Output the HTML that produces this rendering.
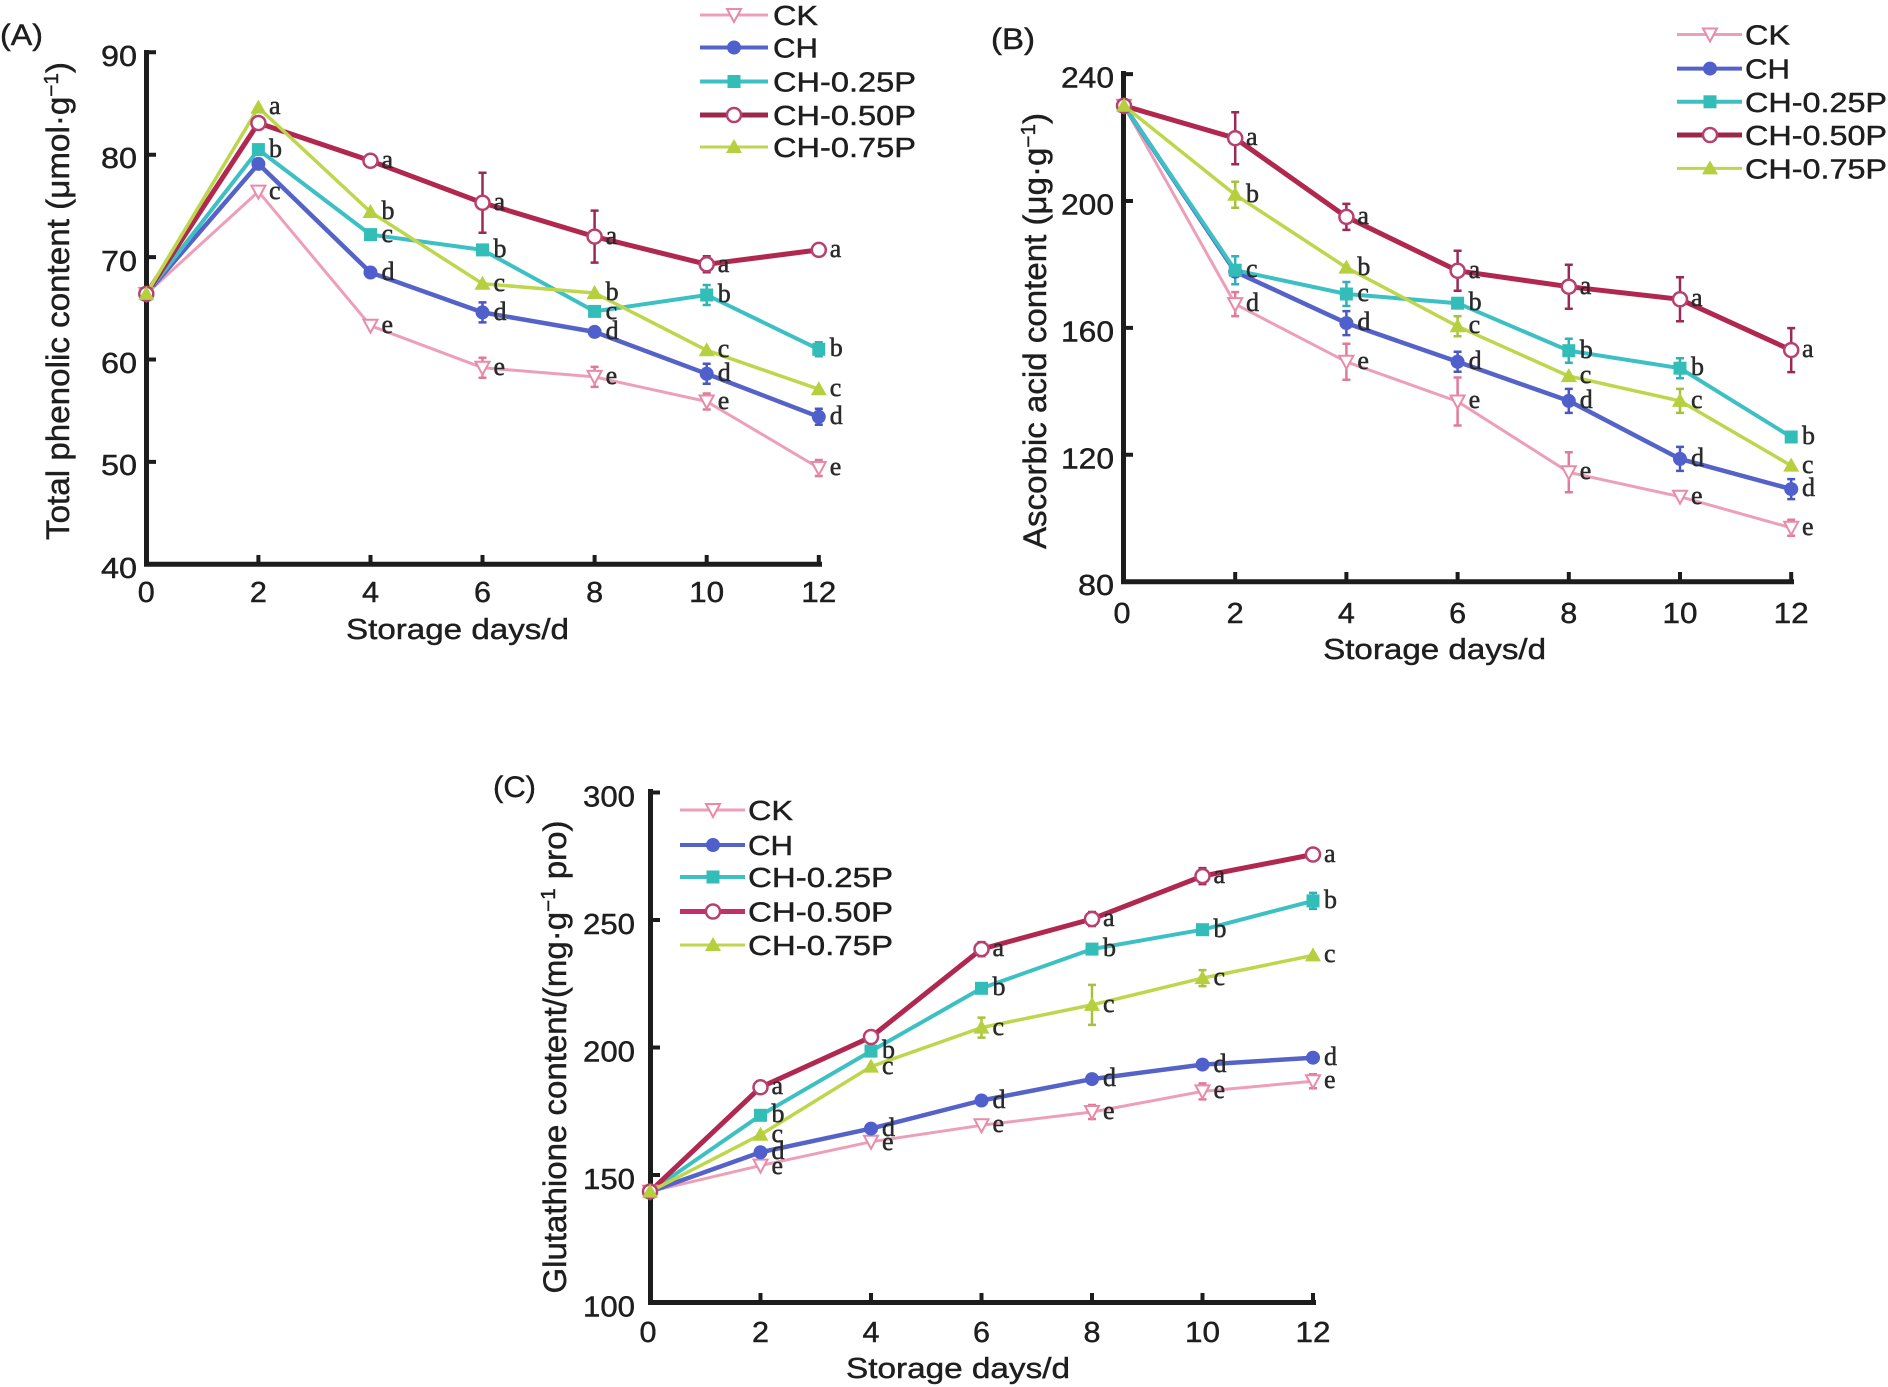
<!DOCTYPE html>
<html>
<head>
<meta charset="utf-8">
<style>
html,body{margin:0;padding:0;background:#fff;}
svg{display:block;}
.t{font-family:"Liberation Sans",Arial,sans-serif;fill:#1e1e1e;stroke:#1e1e1e;stroke-width:0.45px;}
.l{font-family:"Liberation Serif","Times New Roman",serif;fill:#2a2a2a;stroke:#2a2a2a;stroke-width:0.5px;font-size:26px;}
</style>
</head>
<body>
<svg width="1888" height="1387" viewBox="0 0 1888 1387" xmlns="http://www.w3.org/2000/svg">
<defs>
<g id="mCK"><path d="M-7,-6 L7,-6 L0,7 Z" fill="#fff" stroke="#e98aa8" stroke-width="2"/></g>
<g id="mCH"><circle r="7" fill="#4f5fcc"/></g>
<g id="mQ"><rect x="-6.5" y="-6.5" width="13" height="13" fill="#33bdb8"/></g>
<g id="mH"><circle r="7" fill="#fff" stroke="#b8406e" stroke-width="2.5"/></g>
<g id="mT"><path d="M0,-8 L8,6 L-8,6 Z" fill="#b5cf3e"/></g>
</defs>
<rect width="1888" height="1387" fill="#fff"/>

<!-- ================= PANEL A ================= -->
<text class="t" x="0" y="45" font-size="30" textLength="43" lengthAdjust="spacingAndGlyphs">(A)</text>
<g stroke="#1c1c1c" fill="none">
<path d="M146.5,50 V566.5 M144,564.3 H822" stroke-width="5"/>
<path d="M146.5,52.3 H156 M146.5,154.7 H156 M146.5,257.1 H156 M146.5,359.5 H156 M146.5,461.9 H156" stroke-width="4"/>
<path d="M258.4,564 V555 M370.5,564 V555 M482.5,564 V555 M594.6,564 V555 M706.7,564 V555 M818.8,564 V555" stroke-width="4"/>
</g>
<g class="t" font-size="29" text-anchor="end">
<text x="137" y="66" textLength="36" lengthAdjust="spacingAndGlyphs">90</text>
<text x="137" y="168" textLength="36" lengthAdjust="spacingAndGlyphs">80</text>
<text x="137" y="271" textLength="36" lengthAdjust="spacingAndGlyphs">70</text>
<text x="137" y="373" textLength="36" lengthAdjust="spacingAndGlyphs">60</text>
<text x="137" y="475" textLength="36" lengthAdjust="spacingAndGlyphs">50</text>
<text x="137" y="578" textLength="36" lengthAdjust="spacingAndGlyphs">40</text>
</g>
<g class="t" font-size="29" text-anchor="middle">
<text x="146.3" y="602" textLength="17" lengthAdjust="spacingAndGlyphs">0</text>
<text x="258.4" y="602" textLength="17" lengthAdjust="spacingAndGlyphs">2</text>
<text x="370.5" y="602" textLength="17" lengthAdjust="spacingAndGlyphs">4</text>
<text x="482.5" y="602" textLength="17" lengthAdjust="spacingAndGlyphs">6</text>
<text x="594.6" y="602" textLength="17" lengthAdjust="spacingAndGlyphs">8</text>
<text x="706.7" y="602" textLength="35" lengthAdjust="spacingAndGlyphs">10</text>
<text x="818.8" y="602" textLength="35" lengthAdjust="spacingAndGlyphs">12</text>
<text x="457.5" y="639" textLength="223" lengthAdjust="spacingAndGlyphs">Storage days/d</text>
</g>
<text class="t" font-size="32" text-anchor="middle" transform="translate(69,301) rotate(-90)" textLength="478" lengthAdjust="spacingAndGlyphs">Total phenolic content (μmol·g<tspan dy="-11" font-size="20">−1</tspan><tspan dy="11">)</tspan></text>

<g fill="none" stroke-linejoin="round">
<polyline stroke="#ee9fb8" stroke-width="3" points="146.3,293.9 258.4,191.6 370.5,325.7 482.5,367.7 594.6,376.9 706.7,401.5 818.8,468.0"/>
<polyline stroke="#5563c9" stroke-width="4.5" points="146.3,293.9 258.4,163.9 370.5,272.5 482.5,312.4 594.6,331.9 706.7,373.8 818.8,416.8"/>
<polyline stroke="#3cc0c4" stroke-width="4" points="146.3,293.9 258.4,149.6 370.5,234.6 482.5,249.9 594.6,311.4 706.7,295.0 818.8,349.3"/>
<polyline stroke="#b0284f" stroke-width="5" points="146.3,293.9 258.4,123.0 370.5,160.8 482.5,202.8 594.6,236.6 706.7,264.3 818.8,249.9"/>
<polyline stroke="#bed64c" stroke-width="3.5" points="146.3,293.9 258.4,107.6 370.5,212.0 482.5,283.7 594.6,293.0 706.7,350.3 818.8,389.2"/>
</g>
<g fill="none" stroke-width="2.5">
<path stroke="#9a2a55" d="M482.5,172.8V232.8M478.5,172.8H486.5M478.5,232.8H486.5 M594.6,210.6V262.6M590.6,210.6H598.6M590.6,262.6H598.6 M706.7,256.3V272.3M702.7,256.3H710.7M702.7,272.3H710.7"/>
<path stroke="#30b0b8" d="M706.7,285V305M702.7,285H710.7M702.7,305H710.7 M818.8,342.3V356.3M814.8,342.3H822.8M814.8,356.3H822.8"/>
<path stroke="#4a57c0" d="M482.5,302.4V322.4M478.5,302.4H486.5M478.5,322.4H486.5 M706.7,363.8V383.8M702.7,363.8H710.7M702.7,383.8H710.7 M818.8,408.8V424.8M814.8,408.8H822.8M814.8,424.8H822.8"/>
<path stroke="#e07a98" d="M482.5,357.7V377.7M478.5,357.7H486.5M478.5,377.7H486.5 M594.6,366.9V386.9M590.6,366.9H598.6M590.6,386.9H598.6 M706.7,393.5V409.5M702.7,393.5H710.7M702.7,409.5H710.7 M818.8,460V476M814.8,460H822.8M814.8,476H822.8"/>
</g>
<use href="#mCK" x="146.3" y="293.9"/><use href="#mCK" x="258.4" y="191.6"/><use href="#mCK" x="370.5" y="325.7"/><use href="#mCK" x="482.5" y="367.7"/><use href="#mCK" x="594.6" y="376.9"/><use href="#mCK" x="706.7" y="401.5"/><use href="#mCK" x="818.8" y="468.0"/>
<use href="#mCH" x="146.3" y="293.9"/><use href="#mCH" x="258.4" y="163.9"/><use href="#mCH" x="370.5" y="272.5"/><use href="#mCH" x="482.5" y="312.4"/><use href="#mCH" x="594.6" y="331.9"/><use href="#mCH" x="706.7" y="373.8"/><use href="#mCH" x="818.8" y="416.8"/>
<use href="#mQ" x="146.3" y="293.9"/><use href="#mQ" x="258.4" y="149.6"/><use href="#mQ" x="370.5" y="234.6"/><use href="#mQ" x="482.5" y="249.9"/><use href="#mQ" x="594.6" y="311.4"/><use href="#mQ" x="706.7" y="295.0"/><use href="#mQ" x="818.8" y="349.3"/>
<use href="#mH" x="146.3" y="293.9"/><use href="#mH" x="258.4" y="123.0"/><use href="#mH" x="370.5" y="160.8"/><use href="#mH" x="482.5" y="202.8"/><use href="#mH" x="594.6" y="236.6"/><use href="#mH" x="706.7" y="264.3"/><use href="#mH" x="818.8" y="249.9"/>
<use href="#mT" x="146.3" y="293.9"/><use href="#mT" x="258.4" y="107.6"/><use href="#mT" x="370.5" y="212.0"/><use href="#mT" x="482.5" y="283.7"/><use href="#mT" x="594.6" y="293.0"/><use href="#mT" x="706.7" y="350.3"/><use href="#mT" x="818.8" y="389.2"/>
<g class="l">
<text x="269" y="114">a</text><text x="269" y="157">b</text><text x="269" y="199">c</text>
<text x="381.5" y="168">a</text><text x="381.5" y="219">b</text><text x="381.5" y="242">c</text><text x="381.5" y="280">d</text><text x="381.5" y="333">e</text>
<text x="493.5" y="210">a</text><text x="493.5" y="257">b</text><text x="493.5" y="291">c</text><text x="493.5" y="320">d</text><text x="493.5" y="375">e</text>
<text x="605.6" y="244">a</text><text x="605.6" y="300">b</text><text x="605.6" y="319">c</text><text x="605.6" y="339">d</text><text x="605.6" y="384">e</text>
<text x="717.7" y="272">a</text><text x="717.7" y="302">b</text><text x="717.7" y="357">c</text><text x="717.7" y="381">d</text><text x="717.7" y="409">e</text>
<text x="829.8" y="257">a</text><text x="829.8" y="356">b</text><text x="829.8" y="396">c</text><text x="829.8" y="424">d</text><text x="829.8" y="475">e</text>
</g>
<g stroke-width="4">
<line x1="700" y1="15" x2="768" y2="15" stroke="#ee9fb8" stroke-width="3"/>
<line x1="700" y1="47.5" x2="768" y2="47.5" stroke="#5563c9"/>
<line x1="700" y1="81.5" x2="768" y2="81.5" stroke="#3cc0c4"/>
<line x1="700" y1="115" x2="768" y2="115" stroke="#9a2848" stroke-width="5"/>
<line x1="700" y1="147" x2="768" y2="147" stroke="#bed64c" stroke-width="3"/>
</g>
<use href="#mCK" x="734" y="15"/><use href="#mCH" x="734" y="47.5"/><use href="#mQ" x="734" y="81.5"/><use href="#mH" x="734" y="115"/><use href="#mT" x="734" y="147"/>
<g class="t" font-size="28">
<text x="773" y="25" textLength="45" lengthAdjust="spacingAndGlyphs">CK</text>
<text x="773" y="57.5" textLength="45" lengthAdjust="spacingAndGlyphs">CH</text>
<text x="773" y="91.5" textLength="143" lengthAdjust="spacingAndGlyphs">CH-0.25P</text>
<text x="773" y="125" textLength="143" lengthAdjust="spacingAndGlyphs">CH-0.50P</text>
<text x="773" y="157" textLength="143" lengthAdjust="spacingAndGlyphs">CH-0.75P</text>
</g>

<!-- ================= PANEL B ================= -->
<text class="t" x="991" y="49" font-size="30" textLength="44" lengthAdjust="spacingAndGlyphs">(B)</text>
<g stroke="#1c1c1c" fill="none">
<path d="M1123.5,71 V584 M1121,581.7 H1794" stroke-width="5"/>
<path d="M1123.5,74.1 H1133 M1123.5,201 H1133 M1123.5,327.9 H1133 M1123.5,454.8 H1133" stroke-width="4"/>
<path d="M1235.2,581 V572 M1346.4,581 V572 M1457.6,581 V572 M1568.8,581 V572 M1680,581 V572 M1791.2,581 V572" stroke-width="4"/>
</g>
<g class="t" font-size="29" text-anchor="end">
<text x="1114" y="87.5" textLength="53" lengthAdjust="spacingAndGlyphs">240</text>
<text x="1114" y="214.5" textLength="53" lengthAdjust="spacingAndGlyphs">200</text>
<text x="1114" y="341.5" textLength="53" lengthAdjust="spacingAndGlyphs">160</text>
<text x="1114" y="468.5" textLength="53" lengthAdjust="spacingAndGlyphs">120</text>
<text x="1114" y="595" textLength="36" lengthAdjust="spacingAndGlyphs">80</text>
</g>
<g class="t" font-size="29" text-anchor="middle">
<text x="1122" y="623" textLength="17" lengthAdjust="spacingAndGlyphs">0</text>
<text x="1235.2" y="623" textLength="17" lengthAdjust="spacingAndGlyphs">2</text>
<text x="1346.4" y="623" textLength="17" lengthAdjust="spacingAndGlyphs">4</text>
<text x="1457.6" y="623" textLength="17" lengthAdjust="spacingAndGlyphs">6</text>
<text x="1568.8" y="623" textLength="17" lengthAdjust="spacingAndGlyphs">8</text>
<text x="1680" y="623" textLength="35" lengthAdjust="spacingAndGlyphs">10</text>
<text x="1791.2" y="623" textLength="35" lengthAdjust="spacingAndGlyphs">12</text>
<text x="1434.6" y="659" textLength="223" lengthAdjust="spacingAndGlyphs">Storage days/d</text>
</g>
<text class="t" font-size="32" text-anchor="middle" transform="translate(1046,331) rotate(-90)" textLength="436" lengthAdjust="spacingAndGlyphs">Ascorbic acid content (μg·g<tspan dy="-11" font-size="20">−1</tspan><tspan dy="11">)</tspan></text>

<g fill="none" stroke-linejoin="round">
<polyline stroke="#ee9fb8" stroke-width="3" points="1124,105.8 1235.2,304.1 1346.4,361.8 1457.6,401.5 1568.8,472.3 1680,496.7 1791.2,527.8"/>
<polyline stroke="#5563c9" stroke-width="4.5" points="1124,105.8 1235.2,271.7 1346.4,323.1 1457.6,361.8 1568.8,400.9 1680,458.9 1791.2,489.1"/>
<polyline stroke="#3cc0c4" stroke-width="4" points="1124,105.8 1235.2,270.2 1346.4,294.0 1457.6,303.2 1568.8,350.7 1680,368.2 1791.2,437.0"/>
<polyline stroke="#b0284f" stroke-width="5" points="1124,105.8 1235.2,138.2 1346.4,216.9 1457.6,270.8 1568.8,286.7 1680,299.3 1791.2,350.1"/>
<polyline stroke="#bed64c" stroke-width="3.5" points="1124,105.8 1235.2,194.7 1346.4,267.6 1457.6,326.3 1568.8,376.1 1680,400.9 1791.2,465.6"/>
</g>
<g fill="none" stroke-width="2.5">
<path stroke="#9a2a55" d="M1235.2,112.2V164.2M1231.2,112.2H1239.2M1231.2,164.2H1239.2 M1346.4,203.9V229.9M1342.4,203.9H1350.4M1342.4,229.9H1350.4 M1457.6,250.8V290.8M1453.6,250.8H1461.6M1453.6,290.8H1461.6 M1568.8,264.7V308.7M1564.8,264.7H1572.8M1564.8,308.7H1572.8 M1680,277.3V321.3M1676,277.3H1684M1676,321.3H1684 M1791.2,328.1V372.1M1787.2,328.1H1795.2M1787.2,372.1H1795.2"/>
<path stroke="#a8c040" d="M1235.2,181.7V207.7M1231.2,181.7H1239.2M1231.2,207.7H1239.2 M1457.6,316.3V336.3M1453.6,316.3H1461.6M1453.6,336.3H1461.6 M1680,388.9V412.9M1676,388.9H1684M1676,412.9H1684"/>
<path stroke="#30b0b8" d="M1235.2,256.2V284.2M1231.2,256.2H1239.2M1231.2,284.2H1239.2 M1346.4,282V306M1342.4,282H1350.4M1342.4,306H1350.4 M1568.8,338.7V362.7M1564.8,338.7H1572.8M1564.8,362.7H1572.8 M1680,358.2V378.2M1676,358.2H1684M1676,378.2H1684"/>
<path stroke="#4a57c0" d="M1346.4,311.1V335.1M1342.4,311.1H1350.4M1342.4,335.1H1350.4 M1457.6,351.8V371.8M1453.6,351.8H1461.6M1453.6,371.8H1461.6 M1568.8,388.9V412.9M1564.8,388.9H1572.8M1564.8,412.9H1572.8 M1680,446.9V470.9M1676,446.9H1684M1676,470.9H1684 M1791.2,479.1V499.1M1787.2,479.1H1795.2M1787.2,499.1H1795.2"/>
<path stroke="#e07a98" d="M1235.2,292.1V316.1M1231.2,292.1H1239.2M1231.2,316.1H1239.2 M1346.4,343.8V379.8M1342.4,343.8H1350.4M1342.4,379.8H1350.4 M1457.6,377.5V425.5M1453.6,377.5H1461.6M1453.6,425.5H1461.6 M1568.8,452.3V492.3M1564.8,452.3H1572.8M1564.8,492.3H1572.8 M1791.2,519.8V535.8M1787.2,519.8H1795.2M1787.2,535.8H1795.2"/>
</g>
<use href="#mCK" x="1124" y="105.8"/><use href="#mCK" x="1235.2" y="304.1"/><use href="#mCK" x="1346.4" y="361.8"/><use href="#mCK" x="1457.6" y="401.5"/><use href="#mCK" x="1568.8" y="472.3"/><use href="#mCK" x="1680" y="496.7"/><use href="#mCK" x="1791.2" y="527.8"/>
<use href="#mCH" x="1124" y="105.8"/><use href="#mCH" x="1235.2" y="271.7"/><use href="#mCH" x="1346.4" y="323.1"/><use href="#mCH" x="1457.6" y="361.8"/><use href="#mCH" x="1568.8" y="400.9"/><use href="#mCH" x="1680" y="458.9"/><use href="#mCH" x="1791.2" y="489.1"/>
<use href="#mQ" x="1124" y="105.8"/><use href="#mQ" x="1235.2" y="270.2"/><use href="#mQ" x="1346.4" y="294.0"/><use href="#mQ" x="1457.6" y="303.2"/><use href="#mQ" x="1568.8" y="350.7"/><use href="#mQ" x="1680" y="368.2"/><use href="#mQ" x="1791.2" y="437.0"/>
<use href="#mH" x="1124" y="105.8"/><use href="#mH" x="1235.2" y="138.2"/><use href="#mH" x="1346.4" y="216.9"/><use href="#mH" x="1457.6" y="270.8"/><use href="#mH" x="1568.8" y="286.7"/><use href="#mH" x="1680" y="299.3"/><use href="#mH" x="1791.2" y="350.1"/>
<use href="#mT" x="1124" y="105.8"/><use href="#mT" x="1235.2" y="194.7"/><use href="#mT" x="1346.4" y="267.6"/><use href="#mT" x="1457.6" y="326.3"/><use href="#mT" x="1568.8" y="376.1"/><use href="#mT" x="1680" y="400.9"/><use href="#mT" x="1791.2" y="465.6"/>
<g class="l">
<text x="1246" y="145">a</text><text x="1246" y="202">b</text><text x="1246" y="277">c</text><text x="1246" y="311">d</text>
<text x="1357.4" y="224">a</text><text x="1357.4" y="275">b</text><text x="1357.4" y="301">c</text><text x="1357.4" y="330">d</text><text x="1357.4" y="369">e</text>
<text x="1468.6" y="278">a</text><text x="1468.6" y="310">b</text><text x="1468.6" y="333">c</text><text x="1468.6" y="369">d</text><text x="1468.6" y="408">e</text>
<text x="1579.8" y="294">a</text><text x="1579.8" y="358">b</text><text x="1579.8" y="383">c</text><text x="1579.8" y="408">d</text><text x="1579.8" y="479">e</text>
<text x="1691" y="306">a</text><text x="1691" y="375">b</text><text x="1691" y="408">c</text><text x="1691" y="466">d</text><text x="1691" y="504">e</text>
<text x="1802" y="357">a</text><text x="1802" y="444">b</text><text x="1802" y="473">c</text><text x="1802" y="496">d</text><text x="1802" y="535">e</text>
</g>
<g stroke-width="4">
<line x1="1677" y1="34.5" x2="1742" y2="34.5" stroke="#ee9fb8" stroke-width="3"/>
<line x1="1677" y1="68.6" x2="1742" y2="68.6" stroke="#5563c9"/>
<line x1="1677" y1="101.8" x2="1742" y2="101.8" stroke="#3cc0c4"/>
<line x1="1677" y1="135" x2="1742" y2="135" stroke="#9a2848" stroke-width="5"/>
<line x1="1677" y1="168.4" x2="1742" y2="168.4" stroke="#bed64c" stroke-width="3"/>
</g>
<use href="#mCK" x="1710" y="34.5"/><use href="#mCH" x="1710" y="68.6"/><use href="#mQ" x="1710" y="101.8"/><use href="#mH" x="1710" y="135"/><use href="#mT" x="1710" y="168.4"/>
<g class="t" font-size="28">
<text x="1745" y="44.5" textLength="45" lengthAdjust="spacingAndGlyphs">CK</text>
<text x="1745" y="78.6" textLength="45" lengthAdjust="spacingAndGlyphs">CH</text>
<text x="1745" y="111.8" textLength="142" lengthAdjust="spacingAndGlyphs">CH-0.25P</text>
<text x="1745" y="145" textLength="142" lengthAdjust="spacingAndGlyphs">CH-0.50P</text>
<text x="1745" y="178.4" textLength="142" lengthAdjust="spacingAndGlyphs">CH-0.75P</text>
</g>

<!-- ================= PANEL C ================= -->
<text class="t" x="493" y="797" font-size="30" textLength="43" lengthAdjust="spacingAndGlyphs">(C)</text>
<g stroke="#1c1c1c" fill="none">
<path d="M650.5,789 V1305 M648,1302.5 H1316" stroke-width="5"/>
<path d="M650.5,792.5 H660 M650.5,920 H660 M650.5,1047.5 H660 M650.5,1175 H660" stroke-width="4"/>
<path d="M760.5,1302 V1293 M871,1302 V1293 M981.5,1302 V1293 M1092,1302 V1293 M1202.5,1302 V1293 M1313,1302 V1293" stroke-width="4"/>
</g>
<g class="t" font-size="29" text-anchor="end">
<text x="635" y="806.5" textLength="52" lengthAdjust="spacingAndGlyphs">300</text>
<text x="635" y="934" textLength="52" lengthAdjust="spacingAndGlyphs">250</text>
<text x="635" y="1061.5" textLength="52" lengthAdjust="spacingAndGlyphs">200</text>
<text x="635" y="1189" textLength="52" lengthAdjust="spacingAndGlyphs">150</text>
<text x="635" y="1316.5" textLength="52" lengthAdjust="spacingAndGlyphs">100</text>
</g>
<g class="t" font-size="29" text-anchor="middle">
<text x="648" y="1342" textLength="17" lengthAdjust="spacingAndGlyphs">0</text>
<text x="760.5" y="1342" textLength="17" lengthAdjust="spacingAndGlyphs">2</text>
<text x="871" y="1342" textLength="17" lengthAdjust="spacingAndGlyphs">4</text>
<text x="981.5" y="1342" textLength="17" lengthAdjust="spacingAndGlyphs">6</text>
<text x="1092" y="1342" textLength="17" lengthAdjust="spacingAndGlyphs">8</text>
<text x="1202.5" y="1342" textLength="35" lengthAdjust="spacingAndGlyphs">10</text>
<text x="1313" y="1342" textLength="35" lengthAdjust="spacingAndGlyphs">12</text>
<text x="958" y="1378" textLength="224" lengthAdjust="spacingAndGlyphs">Storage days/d</text>
</g>
<text class="t" font-size="32" text-anchor="middle" transform="translate(566,1057) rotate(-90)" textLength="473" lengthAdjust="spacingAndGlyphs">Glutathione content/(mg·g<tspan dy="-11" font-size="20">−1</tspan><tspan dy="11"> pro)</tspan></text>

<g fill="none" stroke-linejoin="round">
<polyline stroke="#ee9fb8" stroke-width="3" points="650,1191.6 760.5,1165.6 871,1141.8 981.5,1125.3 1092,1112.0 1202.5,1091.4 1313,1081.2"/>
<polyline stroke="#5563c9" stroke-width="4.5" points="650,1191.6 760.5,1152.3 871,1128.6 981.5,1100.5 1092,1079.1 1202.5,1064.6 1313,1057.7"/>
<polyline stroke="#3cc0c4" stroke-width="4" points="650,1191.6 760.5,1115.3 871,1051.1 981.5,988.3 1092,949.1 1202.5,929.7 1313,900.9"/>
<polyline stroke="#b0284f" stroke-width="5" points="650,1191.6 760.5,1087.3 871,1037.0 981.5,949.1 1092,919.0 1202.5,876.1 1313,854.5"/>
<polyline stroke="#bed64c" stroke-width="3.5" points="650,1191.6 760.5,1134.7 871,1066.6 981.5,1027.6 1092,1004.9 1202.5,978.1 1313,955.4"/>
</g>
<g fill="none" stroke-width="2.5">
<path stroke="#a8c040" d="M981.5,1017.6V1037.6M977.5,1017.6H985.5M977.5,1037.6H985.5 M1092,984.9V1024.9M1088,984.9H1096M1088,1024.9H1096 M1202.5,970.1V986.1M1198.5,970.1H1206.5M1198.5,986.1H1206.5"/>
<path stroke="#9a2a55" d="M981.5,942.1V956.1M977.5,942.1H985.5M977.5,956.1H985.5 M1092,912V926M1088,912H1096M1088,926H1096 M1202.5,868.1V884.1M1198.5,868.1H1206.5M1198.5,884.1H1206.5"/>
<path stroke="#30b0b8" d="M1313,892.9V908.9M1309,892.9H1317M1309,908.9H1317"/>
<path stroke="#e07a98" d="M1092,1105V1119M1088,1105H1096M1088,1119H1096 M1202.5,1083.4V1099.4M1198.5,1083.4H1206.5M1198.5,1099.4H1206.5 M1313,1074.2V1088.2M1309,1074.2H1317M1309,1088.2H1317"/>
</g>
<use href="#mCK" x="650" y="1191.6"/><use href="#mCK" x="760.5" y="1165.6"/><use href="#mCK" x="871" y="1141.8"/><use href="#mCK" x="981.5" y="1125.3"/><use href="#mCK" x="1092" y="1112.0"/><use href="#mCK" x="1202.5" y="1091.4"/><use href="#mCK" x="1313" y="1081.2"/>
<use href="#mCH" x="650" y="1191.6"/><use href="#mCH" x="760.5" y="1152.3"/><use href="#mCH" x="871" y="1128.6"/><use href="#mCH" x="981.5" y="1100.5"/><use href="#mCH" x="1092" y="1079.1"/><use href="#mCH" x="1202.5" y="1064.6"/><use href="#mCH" x="1313" y="1057.7"/>
<use href="#mQ" x="650" y="1191.6"/><use href="#mQ" x="760.5" y="1115.3"/><use href="#mQ" x="871" y="1051.1"/><use href="#mQ" x="981.5" y="988.3"/><use href="#mQ" x="1092" y="949.1"/><use href="#mQ" x="1202.5" y="929.7"/><use href="#mQ" x="1313" y="900.9"/>
<use href="#mH" x="650" y="1191.6"/><use href="#mH" x="760.5" y="1087.3"/><use href="#mH" x="871" y="1037.0"/><use href="#mH" x="981.5" y="949.1"/><use href="#mH" x="1092" y="919.0"/><use href="#mH" x="1202.5" y="876.1"/><use href="#mH" x="1313" y="854.5"/>
<use href="#mT" x="650" y="1191.6"/><use href="#mT" x="760.5" y="1134.7"/><use href="#mT" x="871" y="1066.6"/><use href="#mT" x="981.5" y="1027.6"/><use href="#mT" x="1092" y="1004.9"/><use href="#mT" x="1202.5" y="978.1"/><use href="#mT" x="1313" y="955.4"/>
<g class="l">
<text x="771.5" y="1094">a</text><text x="771.5" y="1122">b</text><text x="771.5" y="1142">c</text><text x="771.5" y="1159">d</text><text x="771.5" y="1174">e</text>
<text x="882" y="1058">b</text><text x="882" y="1074">c</text><text x="882" y="1136">d</text><text x="882" y="1150">e</text>
<text x="992.5" y="956">a</text><text x="992.5" y="995">b</text><text x="992.5" y="1035">c</text><text x="992.5" y="1108">d</text><text x="992.5" y="1132">e</text>
<text x="1103" y="926">a</text><text x="1103" y="956">b</text><text x="1103" y="1012">c</text><text x="1103" y="1086">d</text><text x="1103" y="1119">e</text>
<text x="1213.5" y="883">a</text><text x="1213.5" y="937">b</text><text x="1213.5" y="985">c</text><text x="1213.5" y="1072">d</text><text x="1213.5" y="1098">e</text>
<text x="1324" y="862">a</text><text x="1324" y="908">b</text><text x="1324" y="962">c</text><text x="1324" y="1065">d</text><text x="1324" y="1088">e</text>
</g>
<g stroke-width="4">
<line x1="680" y1="810" x2="745" y2="810" stroke="#ee9fb8" stroke-width="3"/>
<line x1="680" y1="845" x2="745" y2="845" stroke="#5563c9"/>
<line x1="680" y1="877" x2="745" y2="877" stroke="#3cc0c4"/>
<line x1="680" y1="911.5" x2="745" y2="911.5" stroke="#c2306a" stroke-width="5"/>
<line x1="680" y1="945" x2="745" y2="945" stroke="#bed64c" stroke-width="3"/>
</g>
<use href="#mCK" x="713" y="810"/><use href="#mCH" x="713" y="845"/><use href="#mQ" x="713" y="877"/><use href="#mH" x="713" y="911.5"/><use href="#mT" x="713" y="945"/>
<g class="t" font-size="28">
<text x="748" y="820" textLength="45" lengthAdjust="spacingAndGlyphs">CK</text>
<text x="748" y="855" textLength="45" lengthAdjust="spacingAndGlyphs">CH</text>
<text x="748" y="887" textLength="145" lengthAdjust="spacingAndGlyphs">CH-0.25P</text>
<text x="748" y="921.5" textLength="145" lengthAdjust="spacingAndGlyphs">CH-0.50P</text>
<text x="748" y="955" textLength="145" lengthAdjust="spacingAndGlyphs">CH-0.75P</text>
</g>
</svg>
</body>
</html>
